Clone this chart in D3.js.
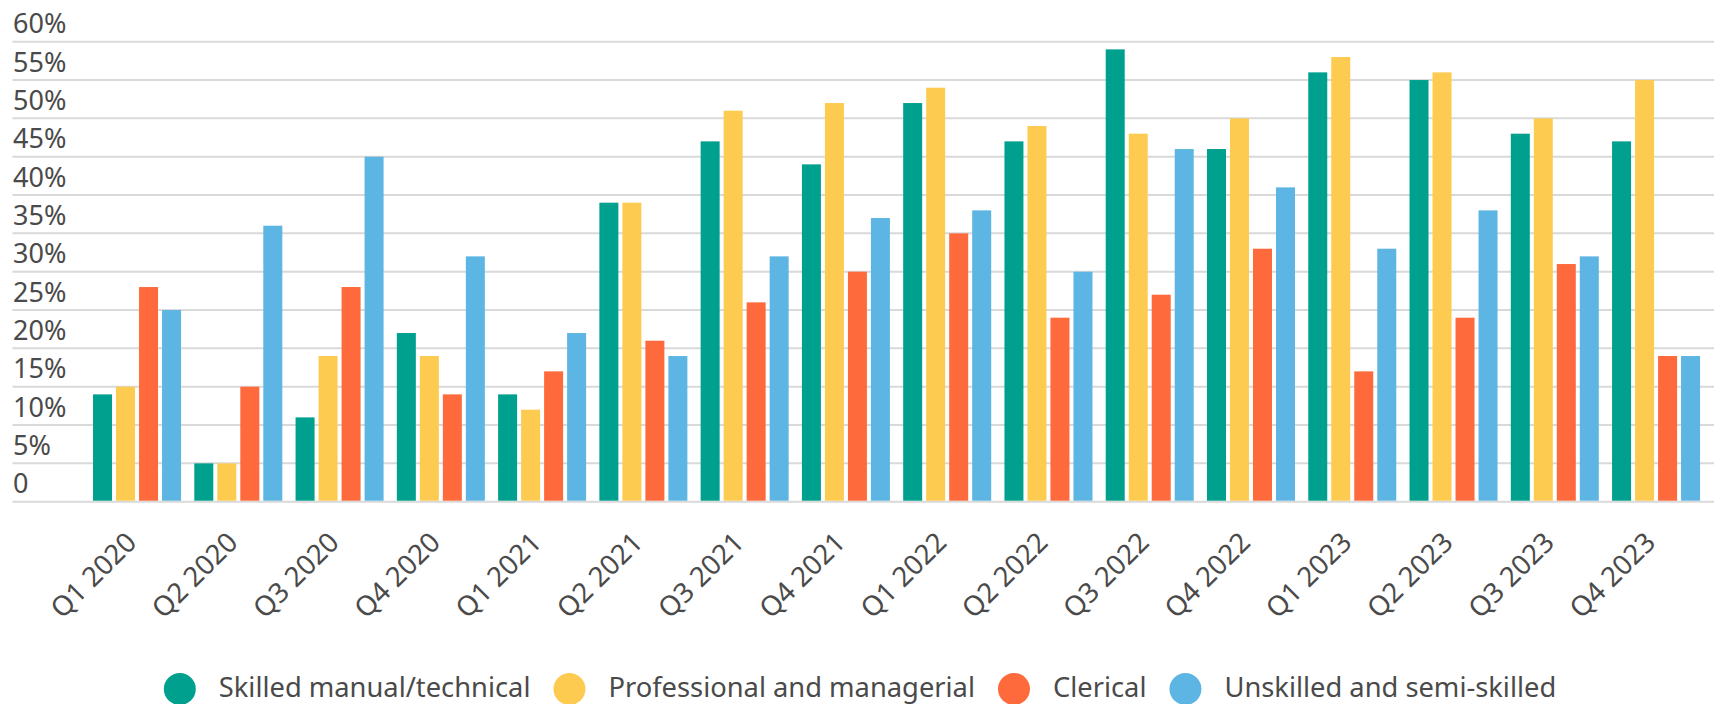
<!DOCTYPE html>
<html>
<head>
<meta charset="utf-8">
<script src="https://cdn.jsdelivr.net/npm/d3@7"></script>
<style>
  html, body { margin: 0; padding: 0; background: #fff; }
  svg { display: block; font-family: "Noto Sans", "Open Sans", sans-serif; }
</style>
</head>
<body>
<svg width="1714" height="704"></svg>
<script>
// quarters on the x axis
const categories = ['Q1 2020', 'Q2 2020', 'Q3 2020', 'Q4 2020',
  'Q1 2021', 'Q2 2021', 'Q3 2021', 'Q4 2021',
  'Q1 2022', 'Q2 2022', 'Q3 2022', 'Q4 2022',
  'Q1 2023', 'Q2 2023', 'Q3 2023', 'Q4 2023'];

const seriesNames = ['Skilled manual/technical', 'Professional and managerial', 'Clerical', 'Unskilled and semi-skilled'];
const seriesColors = ['#00a08e', '#fecb51', '#fe6a3b', '#5db5e3'];

// values in %
const skilled      = [14, 5, 11, 22, 14, 39, 47, 44, 52, 47, 59, 46, 56, 55, 48, 47];
const professional = [15, 5, 19, 19, 12, 39, 51, 52, 54, 49, 48, 50, 58, 56, 50, 55];
const clerical     = [28, 15, 28, 14, 17, 21, 26, 30, 35, 24, 27, 33, 17, 24, 31, 19];
const unskilled    = [25, 36, 45, 32, 22, 19, 32, 37, 38, 30, 46, 41, 33, 38, 32, 19];

const yTicks = [0, 5, 10, 15, 20, 25, 30, 35, 40, 45, 50, 55, 60];
const yTickLabels = ['0', '5%', '10%', '15%', '20%', '25%', '30%', '35%', '40%', '45%', '50%', '55%', '60%'];

const seriesValues = [skilled, professional, clerical, unskilled];
const textColor = '#4a4a4a';

var svg = d3.select('svg'),
    width = +svg.attr('width');

var y = d3.scaleLinear().domain([0, 60]).range([501.7, 41.7]);

var x0 = d3.scaleBand()
    .domain(categories)
    .range([86.4, 1706.7])
    .paddingInner(0.131)
    .paddingOuter(0.0655);

var x1 = d3.scaleBand()
    .domain(seriesNames)
    .range([0, x0.bandwidth()])
    .paddingInner(0.174)
    .paddingOuter(0);

// gridlines
svg.append('g').attr('class', 'grid')
  .selectAll('line')
  .data(yTicks)
  .join('line')
    .attr('x1', 12.5)
    .attr('x2', width)
    .attr('y1', d => y(d))
    .attr('y2', d => y(d))
    .attr('stroke', '#d9d9d9')
    .attr('stroke-width', 2);

// y tick labels, sitting above their gridline
svg.append('g').attr('class', 'y-labels')
  .selectAll('text')
  .data(yTicks)
  .join('text')
    .attr('x', 13)
    .attr('y', d => y(d) - 8.5)
    .attr('fill', textColor)
    .attr('font-size', 27)
    .text((d, i) => yTickLabels[i]);

// bars
const rows = categories.map((c, i) => ({
  cat: c,
  vals: seriesNames.map((s, j) => ({ key: s, color: seriesColors[j], value: seriesValues[j][i] }))
}));

svg.append('g').attr('class', 'bars')
  .selectAll('g')
  .data(rows)
  .join('g')
    .attr('transform', d => `translate(${x0(d.cat)},0)`)
  .selectAll('rect')
  .data(d => d.vals)
  .join('rect')
    .attr('x', d => x1(d.key))
    .attr('width', x1.bandwidth())
    .attr('y', d => y(d.value))
    .attr('height', d => y(0) - 1 - y(d.value))
    .attr('fill', d => d.color);

// rotated x labels
svg.append('g').attr('class', 'x-labels')
  .selectAll('text')
  .data(categories)
  .join('text')
    .attr('transform', d => `translate(${x0(d) + x0.bandwidth() / 2 + 1},544) rotate(-45)`)
    .attr('text-anchor', 'end')
    .attr('fill', textColor)
    .attr('font-size', 27.5)
    .text(d => d);

// legend
const legend = svg.append('g').attr('class', 'legend');
let cursor = 0;
seriesNames.forEach((name, i) => {
  const item = legend.append('g').attr('transform', `translate(${cursor},0)`);
  item.append('circle')
    .attr('cx', 16).attr('cy', 689).attr('r', 16)
    .attr('fill', seriesColors[i]);
  const t = item.append('text')
    .attr('x', 55).attr('y', 697)
    .attr('fill', textColor)
    .attr('font-size', 27.3)
    .text(name);
  cursor += 55 + t.node().getComputedTextLength() + 23;
});
const legendWidth = cursor - 23;
legend.attr('transform', `translate(${(width - legendWidth) / 2 + 3},0)`);
</script>
</body>
</html>
